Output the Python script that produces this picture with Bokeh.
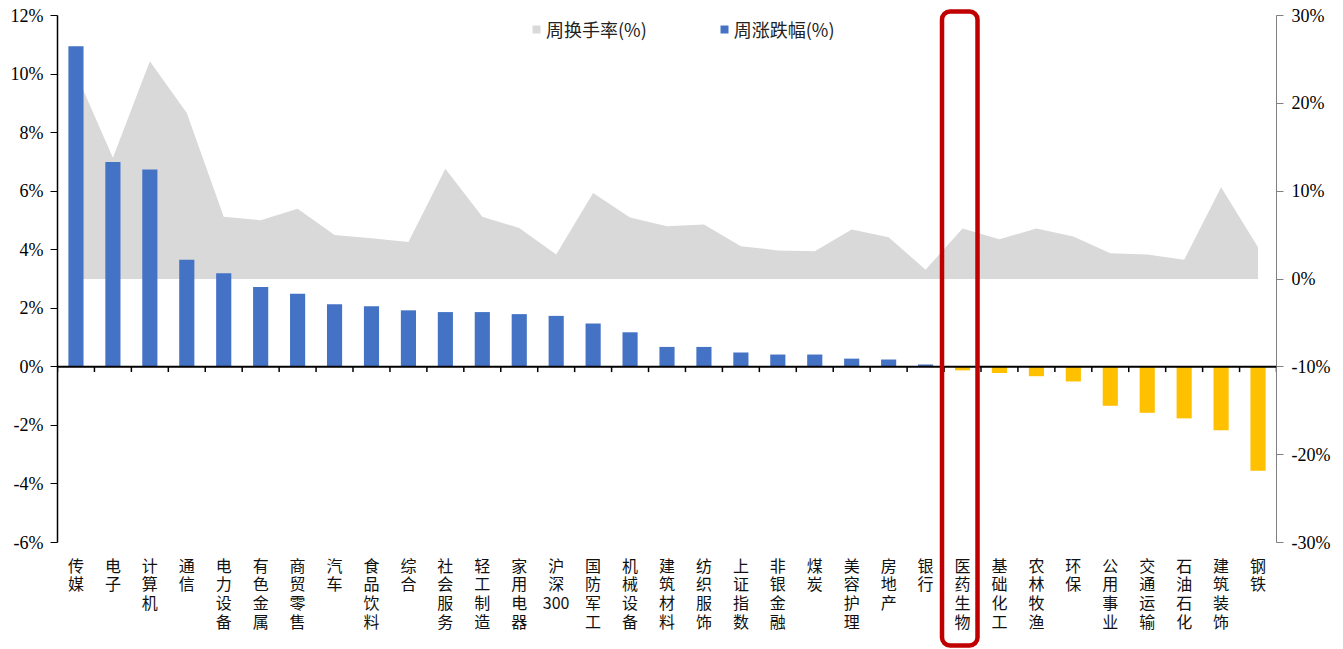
from bokeh.plotting import figure
from bokeh.models import (Range1d, LinearAxis, FixedTicker, Span, BoxAnnotation,
                          Legend, LegendItem, ColumnDataSource)
from bokeh.core.properties import value
from bokeh.embed import file_html
from bokeh.resources import INLINE

categories = ["传媒", "电子", "计算机", "通信", "电力设备", "有色金属", "商贸零售", "汽车",
              "食品饮料", "综合", "社会服务", "轻工制造", "家用电器", "沪深300", "国防军工",
              "机械设备", "建筑材料", "纺织服饰", "上证指数", "非银金融", "煤炭", "美容护理",
              "房地产", "银行", "医药生物", "基础化工", "农林牧渔", "环保", "公用事业",
              "交通运输", "石油石化", "建筑装饰", "钢铁"]
weekly_change = [10.95, 7.00, 6.74, 3.66, 3.20, 2.73, 2.50, 2.14, 2.07, 1.93, 1.87, 1.87,
                 1.80, 1.74, 1.48, 1.18, 0.68, 0.68, 0.49, 0.42, 0.42, 0.28, 0.25, 0.08,
                 -0.12, -0.21, -0.32, -0.50, -1.33, -1.57, -1.76, -2.17, -3.55]
weekly_turnover = [23.4, 13.8, 24.8, 18.9, 7.1, 6.7, 8.0, 5.0, 4.65, 4.2, 12.55, 7.1,
                   5.8, 2.8, 9.8, 7.0, 6.0, 6.2, 3.74, 3.25, 3.17, 5.64, 4.76, 1.05,
                   5.75, 4.53, 5.75, 4.84, 2.94, 2.79, 2.19, 10.45, 3.62]
left_ticks = [-6, -4, -2, 0, 2, 4, 6, 8, 10, 12]
right_ticks = [-30, -20, -10, 0, 10, 20, 30]
highlight = "医药生物"
legend_labels = ["周换手率(%)", "周涨跌幅(%)"]

n = len(categories)
xs = list(range(n))

# Layout: the plotting frame spans the full height so the highlight box can reach
# down into the category-label area; axis lines are bounded to the tick ranges.
W, H = 1343, 649
AXIS_TOP, AXIS_BOTTOM = 15, 542          # pixel rows of the top / bottom ticks
px_per_unit = (AXIS_BOTTOM - AXIS_TOP) / (left_ticks[-1] - left_ticks[0])
y_lo = left_ticks[0] - (H - AXIS_BOTTOM) / px_per_unit
y_hi = left_ticks[-1] + AXIS_TOP / px_per_unit
# right axis is a linear transform of the left one
r_scale = (right_ticks[-1] - right_ticks[0]) / (left_ticks[-1] - left_ticks[0])
r_shift = left_ticks[0] - right_ticks[0] / r_scale


def to_right(v):
    return (v - r_shift) * r_scale


pos_src = ColumnDataSource(dict(x=[i for i in xs if weekly_change[i] >= 0],
                                y=[v for v in weekly_change if v >= 0]))
neg_src = ColumnDataSource(dict(x=[i for i in xs if weekly_change[i] < 0],
                                y=[v for v in weekly_change if v < 0]))
area_src = ColumnDataSource(dict(x=xs, y=weekly_turnover))

p = figure(width=W, height=H, output_backend="svg", toolbar_location=None,
           x_range=Range1d(-0.5, n - 0.5), y_range=Range1d(y_lo, y_hi),
           x_axis_location=None,
           min_border_left=57, min_border_right=67, min_border_top=0, min_border_bottom=0)
p.extra_y_ranges = {"right": Range1d(to_right(y_lo), to_right(y_hi))}
p.outline_line_color = None
p.grid.visible = False
p.background_fill_color = "white"
p.border_fill_color = "white"

area = p.varea(x="x", y1=0, y2="y", source=area_src, y_range_name="right",
               fill_color="#D9D9D9")
pos = p.vbar(x="x", top="y", bottom=0, width=0.41, source=pos_src,
             fill_color="#4472C4", line_color=None)
p.vbar(x="x", top="y", bottom=0, width=0.41, source=neg_src,
       fill_color="#FFC000", line_color=None)

# zero line and category boundary ticks
p.add_layout(Span(location=0, dimension="width", line_color="black", line_width=2))
bounds = [i - 0.5 for i in range(n + 1)]
p.segment(x0=bounds, y0=[0] * len(bounds), x1=bounds, y1=[-0.18] * len(bounds),
          line_color="black", line_width=1.5)

# category labels, stacked vertically below the bottom tick
label_texts = []
for c in categories:
    if c == "沪深300":
        label_texts.append("沪\n深\n300")
    else:
        label_texts.append("\n".join(list(c)))
p.text(x=xs, y=[left_ticks[0]] * n, text=label_texts, y_offset=10,
       text_align="center", text_baseline="top",
       text_font=value("Noto Sans CJK SC"), text_font_size="16px",
       text_color="#111111", text_line_height=0.79)

# left axis
ya = p.yaxis[0]
ya.bounds = (left_ticks[0], left_ticks[-1])
ya.ticker = FixedTicker(ticks=left_ticks)
ya.major_label_overrides = {t: f"{t}%" for t in left_ticks}
ya.axis_line_color = "black"
ya.axis_line_width = 1.5
ya.major_tick_line_color = "black"
ya.major_tick_out = 7
ya.major_tick_in = 0
ya.minor_tick_line_color = None
ya.major_label_standoff = 7
ya.major_label_text_font = "Liberation Serif"
ya.major_label_text_font_size = "18px"
ya.major_label_text_color = "black"

# right axis
ra = LinearAxis(y_range_name="right", ticker=FixedTicker(ticks=right_ticks),
                bounds=(right_ticks[0], right_ticks[-1]))
ra.major_label_overrides = {t: f"{t}%" for t in right_ticks}
ra.axis_line_color = "#808080"
ra.axis_line_width = 1
ra.major_tick_line_color = "#808080"
ra.major_tick_out = 7
ra.major_tick_in = 0
ra.minor_tick_line_color = None
ra.major_label_standoff = 8
ra.major_label_text_font = "Liberation Serif"
ra.major_label_text_font_size = "18px"
ra.major_label_text_color = "black"
p.add_layout(ra, "right")

# legend
legend = Legend(items=[LegendItem(label=legend_labels[0], renderers=[area]),
                       LegendItem(label=legend_labels[1], renderers=[pos])],
                orientation="horizontal", location=(474, H - 42),
                border_line_color=None, background_fill_alpha=0,
                glyph_width=10, glyph_height=10, label_standoff=5, spacing=72,
                padding=2, margin=0,
                label_text_font="Noto Sans CJK SC", label_text_font_size="18px",
                label_text_color="#222222")
p.add_layout(legend)

# highlight box around the chosen category (screen units from the frame bottom)
hi = categories.index(highlight)
p.add_layout(BoxAnnotation(left=hi - 0.555, right=hi + 0.406,
                           top=H - 11, bottom=H - 645,
                           top_units="screen", bottom_units="screen",
                           fill_color=None, fill_alpha=0,
                           line_color="#C00000", line_alpha=1, line_width=4.5,
                           border_radius=8))

open("out.html", "w").write(file_html(p, INLINE))
